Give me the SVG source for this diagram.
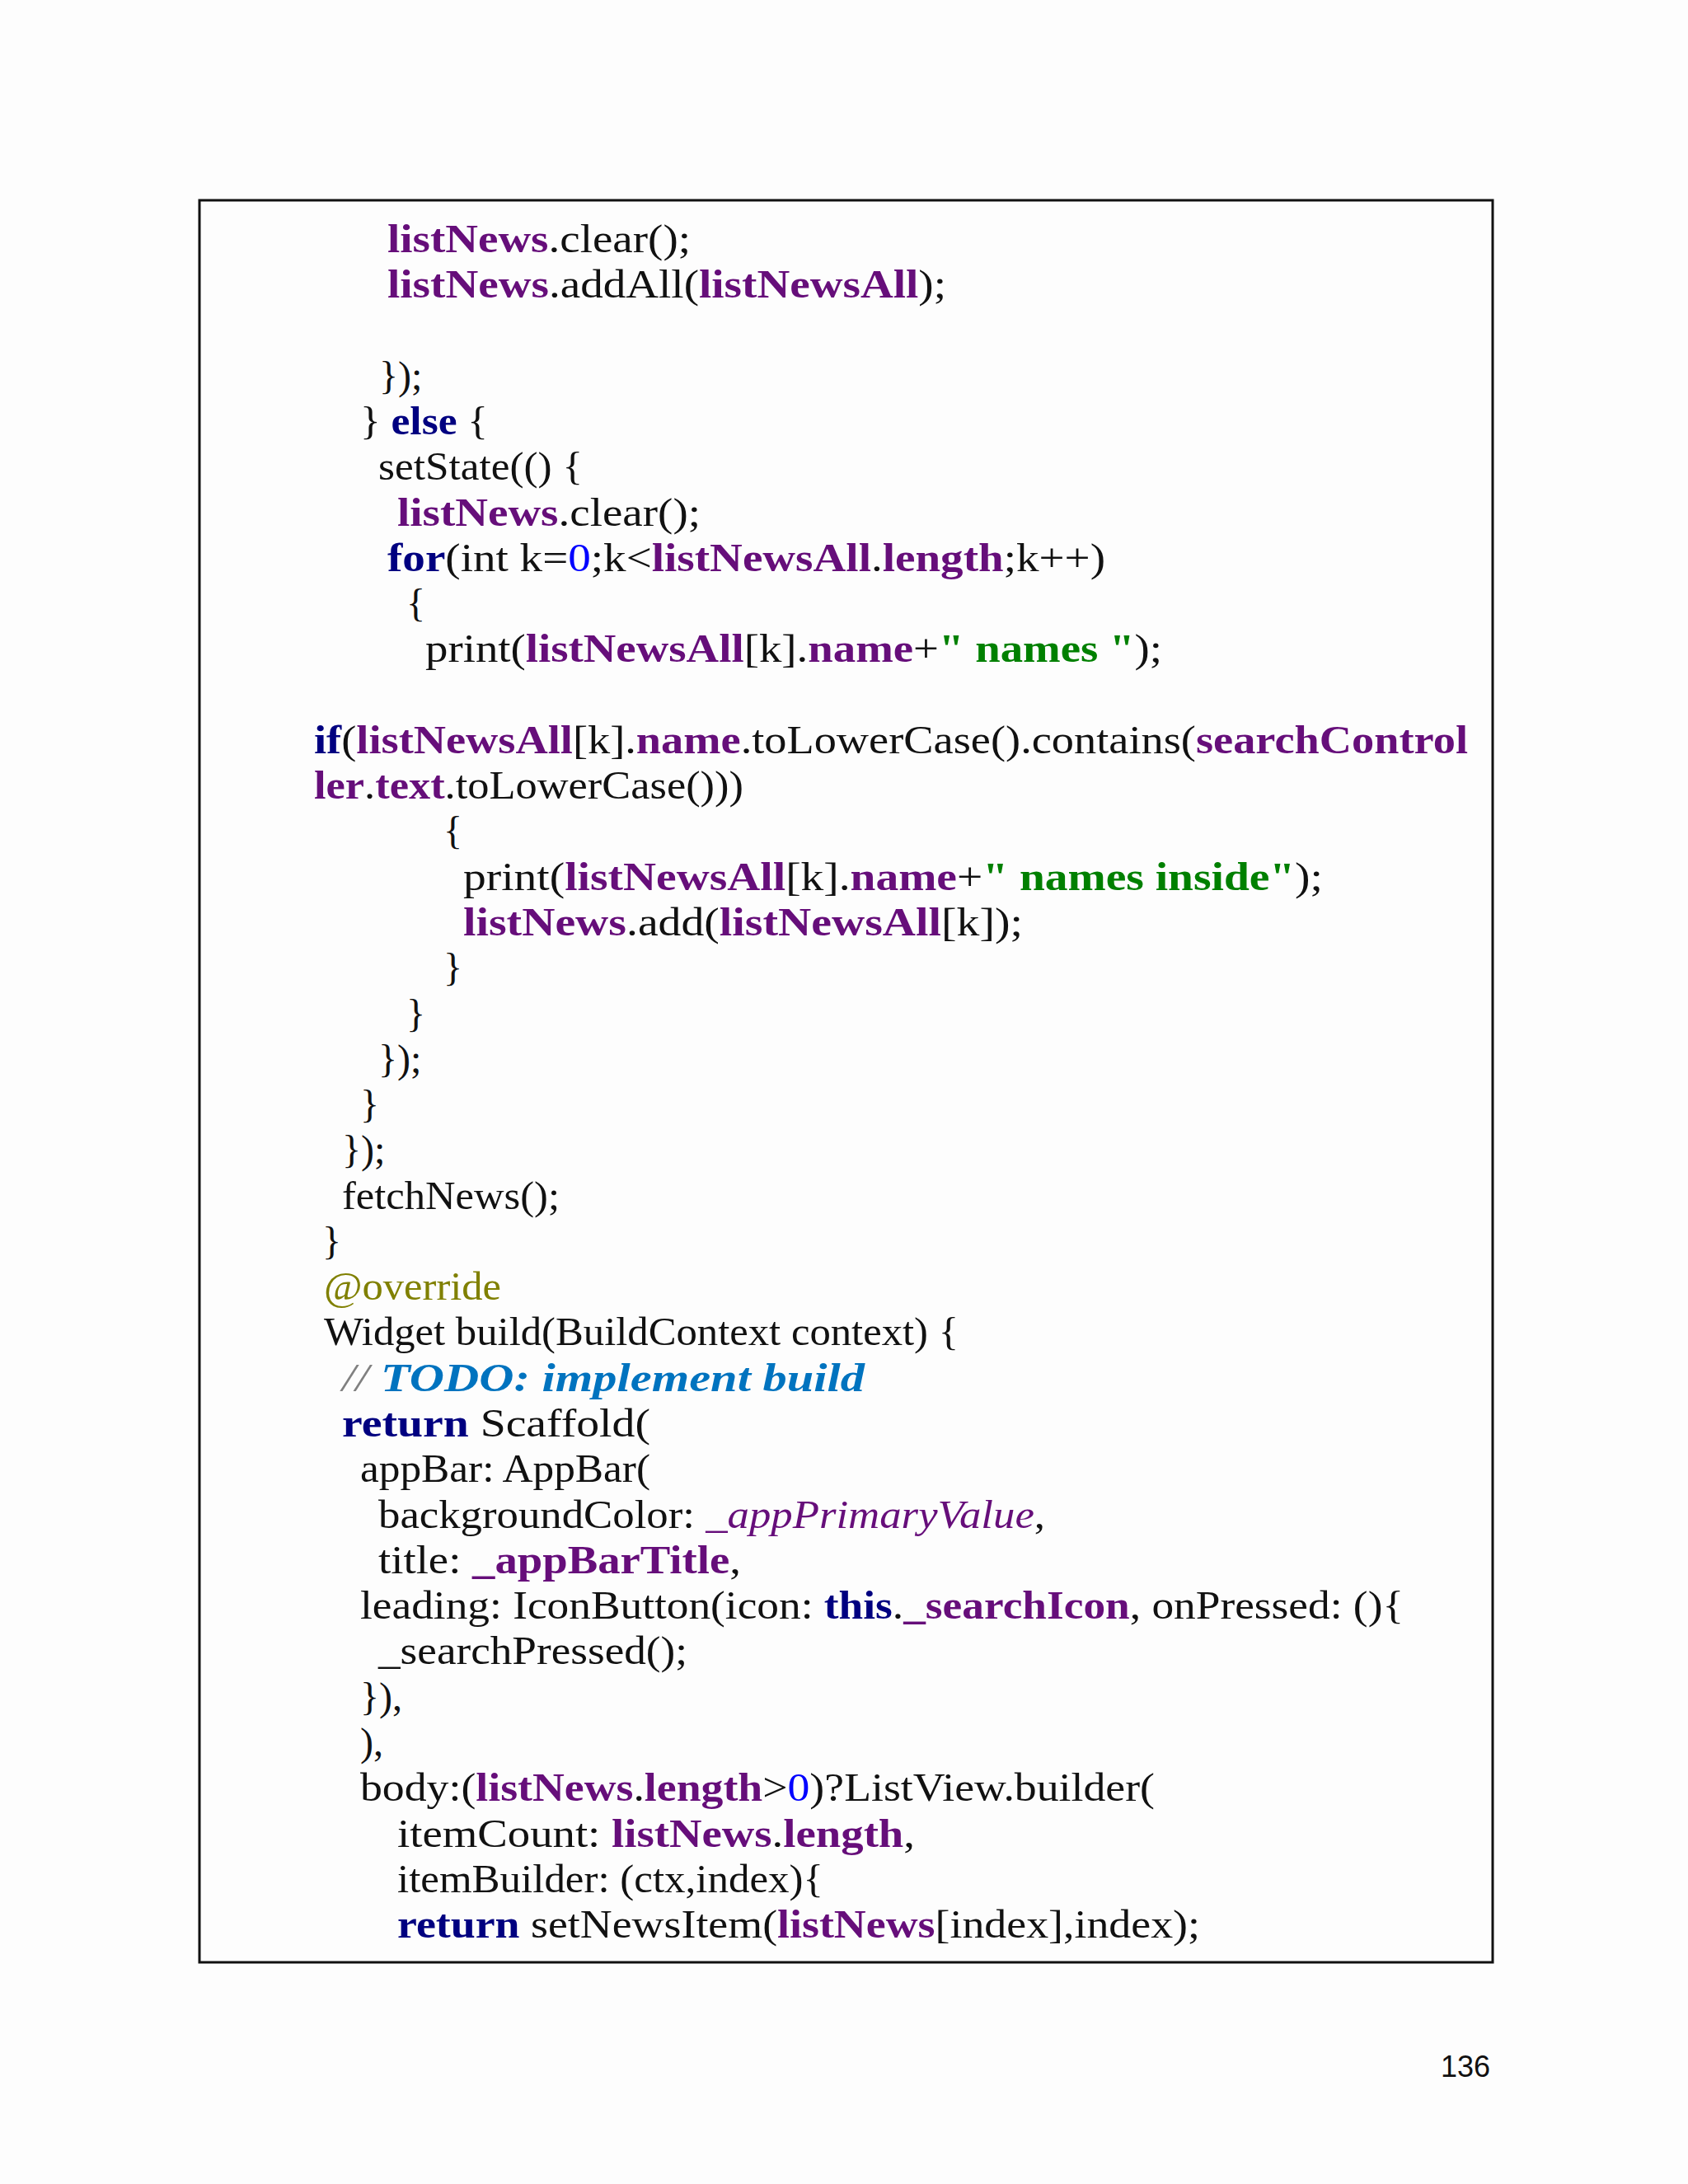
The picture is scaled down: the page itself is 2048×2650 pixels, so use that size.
<svg xmlns="http://www.w3.org/2000/svg" width="2048" height="2650" viewBox="0 0 2048 2650">
<style>
text{font-family:"Liberation Serif",serif;font-size:48px;fill:#111}
.f{fill:#660E7A;font-weight:bold}
.k{fill:#000080;font-weight:bold}
.n{fill:#0000FF}
.s{fill:#008000;font-weight:bold}
.a{fill:#808000}
.t{fill:#0073BF;font-weight:bold;font-style:italic}
.i{fill:#660E7A;font-style:italic}
.c{fill:#808080;font-style:italic}
</style>
<rect width="2048" height="2650" fill="#fdfdfd"/>
<rect x="242" y="243" width="1569" height="2138" fill="none" stroke="#111" stroke-width="3"/>
<g id="code" lengthAdjust="spacingAndGlyphs">
<text x="470" y="306" textLength="368" lengthAdjust="spacingAndGlyphs"><tspan class="f">listNews</tspan>.clear();</text>
<text x="470" y="361" textLength="678" lengthAdjust="spacingAndGlyphs"><tspan class="f">listNews</tspan>.addAll(<tspan class="f">listNewsAll</tspan>);</text>
<text x="460" y="472">});</text>
<text x="437" y="527" textLength="155" lengthAdjust="spacingAndGlyphs">} <tspan class="k">else</tspan> {</text>
<text x="459" y="582" textLength="248" lengthAdjust="spacingAndGlyphs">setState(() {</text>
<text x="482" y="638" textLength="368" lengthAdjust="spacingAndGlyphs"><tspan class="f">listNews</tspan>.clear();</text>
<text x="470" y="693" textLength="871" lengthAdjust="spacingAndGlyphs"><tspan class="k">for</tspan>(int k=<tspan class="n">0</tspan>;k&lt;<tspan class="f">listNewsAll</tspan>.<tspan class="f">length</tspan>;k++)</text>
<text x="493" y="748">{</text>
<text x="516" y="803" textLength="894" lengthAdjust="spacingAndGlyphs">print(<tspan class="f">listNewsAll</tspan>[k].<tspan class="f">name</tspan>+<tspan class="s">" names "</tspan>);</text>
<text x="381" y="914" textLength="1400" lengthAdjust="spacingAndGlyphs"><tspan class="k">if</tspan>(<tspan class="f">listNewsAll</tspan>[k].<tspan class="f">name</tspan>.toLowerCase().contains(<tspan class="f">searchControl</tspan></text>
<text x="381" y="969" textLength="521" lengthAdjust="spacingAndGlyphs"><tspan class="f">ler</tspan>.<tspan class="f">text</tspan>.toLowerCase()))</text>
<text x="538" y="1024">{</text>
<text x="562" y="1080" textLength="1043" lengthAdjust="spacingAndGlyphs">print(<tspan class="f">listNewsAll</tspan>[k].<tspan class="f">name</tspan>+<tspan class="s">" names inside"</tspan>);</text>
<text x="562" y="1135" textLength="679" lengthAdjust="spacingAndGlyphs"><tspan class="f">listNews</tspan>.add(<tspan class="f">listNewsAll</tspan>[k]);</text>
<text x="538" y="1190">}</text>
<text x="493" y="1246">}</text>
<text x="459" y="1301">});</text>
<text x="437" y="1356">}</text>
<text x="415" y="1411">});</text>
<text x="415" y="1467" textLength="264" lengthAdjust="spacingAndGlyphs">fetchNews();</text>
<text x="391" y="1522">}</text>
<text x="393" y="1577" class="a" textLength="215" lengthAdjust="spacingAndGlyphs">@override</text>
<text x="393" y="1632" textLength="770" lengthAdjust="spacingAndGlyphs">Widget build(BuildContext context) {</text>
<text x="415" y="1688" textLength="634" lengthAdjust="spacingAndGlyphs"><tspan class="c">// </tspan><tspan class="t">TODO: implement build</tspan></text>
<text x="415" y="1743" textLength="374" lengthAdjust="spacingAndGlyphs"><tspan class="k">return</tspan> Scaffold(</text>
<text x="437" y="1798" textLength="352" lengthAdjust="spacingAndGlyphs">appBar: AppBar(</text>
<text x="459" y="1854" textLength="809" lengthAdjust="spacingAndGlyphs">backgroundColor: <tspan class="i">_appPrimaryValue</tspan>,</text>
<text x="459" y="1909" textLength="440" lengthAdjust="spacingAndGlyphs">title: <tspan class="f">_appBarTitle</tspan>,</text>
<text x="437" y="1964" textLength="1266" lengthAdjust="spacingAndGlyphs">leading: IconButton(icon: <tspan class="k">this</tspan>.<tspan class="f">_searchIcon</tspan>, onPressed: (){</text>
<text x="459" y="2019" textLength="375" lengthAdjust="spacingAndGlyphs">_searchPressed();</text>
<text x="437" y="2075">}),</text>
<text x="437" y="2130">),</text>
<text x="437" y="2185" textLength="964" lengthAdjust="spacingAndGlyphs">body:(<tspan class="f">listNews</tspan>.<tspan class="f">length</tspan>&gt;<tspan class="n">0</tspan>)?ListView.builder(</text>
<text x="482" y="2241" textLength="628" lengthAdjust="spacingAndGlyphs">itemCount: <tspan class="f">listNews</tspan>.<tspan class="f">length</tspan>,</text>
<text x="482" y="2296" textLength="517" lengthAdjust="spacingAndGlyphs">itemBuilder: (ctx,index){</text>
<text x="482" y="2351" textLength="974" lengthAdjust="spacingAndGlyphs"><tspan class="k">return</tspan> setNewsItem(<tspan class="f">listNews</tspan>[index],index);</text>
</g>
<text x="1808" y="2520" text-anchor="end" style="font-family:'Liberation Sans',sans-serif;font-size:36px">136</text>
</svg>
